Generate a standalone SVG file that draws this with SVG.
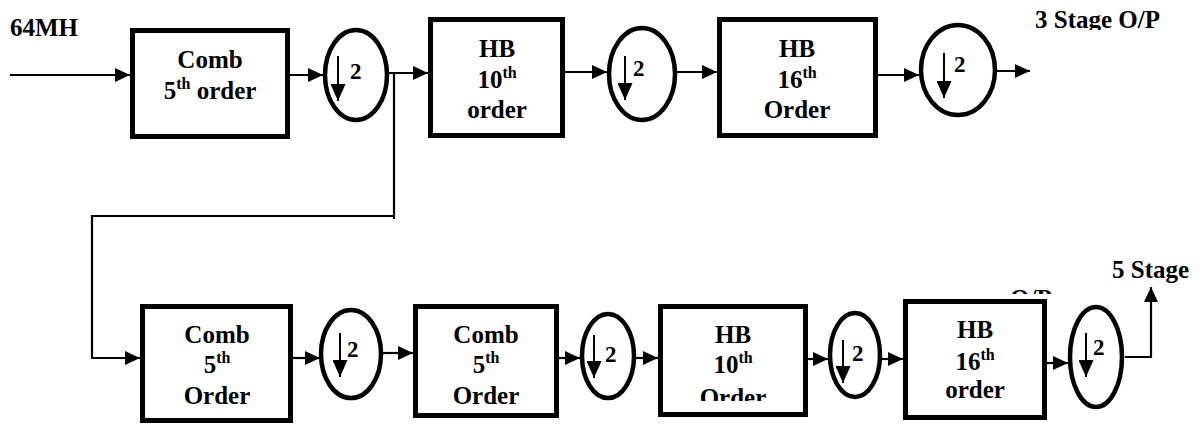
<svg xmlns="http://www.w3.org/2000/svg" width="1202" height="426" viewBox="0 0 1202 426">
  <style>
    .blk { fill: #fff; stroke: #000; stroke-width: 5; }
    .dec { fill: #fff; stroke: #000; stroke-width: 4.5; }
    .wire { fill: none; stroke: #000; stroke-width: 2.2; }
    .ptr { fill: none; stroke: #000; stroke-width: 2.2; marker-end: url(#ah); }
    .down { fill: none; stroke: #000; stroke-width: 2; marker-end: url(#ahDown); }
    text { font-family: "Liberation Serif", "Times New Roman", serif; font-weight: bold; fill: #000; }
    .lbl { font-size: 25px; text-anchor: middle; }
    .sup { font-size: 16px; }
    .two { font-size: 23px; }
    .tag { font-size: 25px; }
  </style>
  <defs>
    <marker id="ah" markerWidth="15" markerHeight="14" refX="15" refY="7" orient="auto" markerUnits="userSpaceOnUse">
      <path d="M0,0 L15,7 L0,14 z" fill="#000"/>
    </marker>
    <marker id="ahDown" markerWidth="17" markerHeight="15" refX="17" refY="7.5" orient="auto" markerUnits="userSpaceOnUse">
      <path d="M0,0 L17,7.5 L0,15 z" fill="#000"/>
    </marker>
    <clipPath id="clipTop"><rect x="1000" y="0" width="202" height="30"/></clipPath>
    <clipPath id="clipOrder"><rect x="660" y="380" width="146" height="21"/></clipPath>
    <clipPath id="clipOP"><rect x="1000" y="288" width="60" height="6"/></clipPath>
  </defs>

  <!-- free labels -->
  <text class="tag" x="10" y="36">64MH</text>
  <text class="tag" x="1035" y="28" clip-path="url(#clipTop)">3 Stage O/P</text>
  <text class="tag" x="1112" y="278">5 Stage</text>
  <text class="tag" x="1010" y="307" clip-path="url(#clipOP)">O/P</text>

  <!-- connectors -->
  <g id="connectors">
    <line class="ptr" x1="10" y1="75" x2="130" y2="75"/>
    <line class="ptr" x1="290" y1="75" x2="323" y2="75"/>
    <line class="ptr" x1="389" y1="73" x2="428" y2="73"/>
    <line class="ptr" x1="565" y1="72" x2="607" y2="72"/>
    <line class="ptr" x1="677" y1="72" x2="717" y2="72"/>
    <line class="ptr" x1="878" y1="75" x2="919" y2="75"/>
    <line class="ptr" x1="997" y1="71" x2="1030" y2="71"/>
    <!-- branch to the second chain -->
    <line class="wire" x1="394" y1="73" x2="394" y2="219"/>
    <polyline class="wire" points="394,216 92,216 92,358"/>
    <line class="ptr" x1="91" y1="358" x2="140" y2="358"/>
    <line class="ptr" x1="293" y1="358" x2="320" y2="358"/>
    <line class="ptr" x1="383" y1="353" x2="413" y2="353"/>
    <line class="ptr" x1="559" y1="358" x2="580" y2="358"/>
    <line class="ptr" x1="636" y1="358" x2="658" y2="358"/>
    <line class="ptr" x1="808" y1="359" x2="828" y2="359"/>
    <line class="ptr" x1="882" y1="359" x2="903" y2="359"/>
    <line class="ptr" x1="1047" y1="363" x2="1068" y2="363"/>
    <polyline class="ptr" points="1125,357 1151,357 1151,287"/>
  </g>

  <!-- upper chain -->
  <g id="comb1">
    <rect class="blk" x="132.5" y="30.5" width="155" height="106"/>
    <text class="lbl" x="210" y="68">Comb</text>
    <text class="lbl" x="210" y="99">5<tspan class="sup" dy="-10">th</tspan><tspan dy="10"> order</tspan></text>
  </g>
  <g id="dec1">
    <ellipse class="dec" cx="356" cy="75" rx="31" ry="45"/>
    <line class="down" x1="338" y1="56" x2="338" y2="101"/>
    <text class="two" x="350" y="79">2</text>
  </g>
  <g id="hb1">
    <rect class="blk" x="430.5" y="19.5" width="132" height="116"/>
    <text class="lbl" x="497" y="57">HB</text>
    <text class="lbl" x="497" y="88">10<tspan class="sup" dy="-10">th</tspan></text>
    <text class="lbl" x="497" y="118">order</text>
  </g>
  <g id="dec2">
    <ellipse class="dec" cx="642" cy="74" rx="33" ry="46"/>
    <line class="down" x1="625" y1="56" x2="625" y2="100"/>
    <text class="two" x="633" y="76">2</text>
  </g>
  <g id="hb2">
    <rect class="blk" x="719.5" y="19.5" width="156" height="116"/>
    <text class="lbl" x="797" y="57">HB</text>
    <text class="lbl" x="797" y="88">16<tspan class="sup" dy="-10">th</tspan></text>
    <text class="lbl" x="797" y="118">Order</text>
  </g>
  <g id="dec3">
    <ellipse class="dec" cx="958" cy="70" rx="37" ry="45"/>
    <line class="down" x1="944" y1="53" x2="944" y2="98"/>
    <text class="two" x="954" y="72">2</text>
  </g>

  <!-- lower chain -->
  <g id="comb2">
    <rect class="blk" x="142.5" y="306.5" width="148" height="114"/>
    <text class="lbl" x="217" y="343">Comb</text>
    <text class="lbl" x="217" y="373">5<tspan class="sup" dy="-10">th</tspan></text>
    <text class="lbl" x="217" y="404">Order</text>
  </g>
  <g id="dec4">
    <ellipse class="dec" cx="351" cy="354" rx="30" ry="44"/>
    <line class="down" x1="340" y1="333" x2="340" y2="377"/>
    <text class="two" x="347" y="357">2</text>
  </g>
  <g id="comb3">
    <rect class="blk" x="415.5" y="306.5" width="141" height="109"/>
    <text class="lbl" x="486" y="343">Comb</text>
    <text class="lbl" x="486" y="373">5<tspan class="sup" dy="-10">th</tspan></text>
    <text class="lbl" x="486" y="404">Order</text>
  </g>
  <g id="dec5">
    <ellipse class="dec" cx="608" cy="356" rx="26" ry="42"/>
    <line class="down" x1="594" y1="335" x2="594" y2="378"/>
    <text class="two" x="605" y="362">2</text>
  </g>
  <g id="hb3">
    <rect class="blk" x="660.5" y="306.5" width="145" height="108"/>
    <text class="lbl" x="733" y="343">HB</text>
    <text class="lbl" x="733" y="373">10<tspan class="sup" dy="-10">th</tspan></text>
    <text class="lbl" x="733" y="406" clip-path="url(#clipOrder)">Order</text>
  </g>
  <g id="dec6">
    <ellipse class="dec" cx="855" cy="355" rx="25" ry="42"/>
    <line class="down" x1="843" y1="340" x2="843" y2="383"/>
    <text class="two" x="852" y="361">2</text>
  </g>
  <g id="hb4">
    <rect class="blk" x="905.5" y="301.5" width="139" height="116"/>
    <text class="lbl" x="975" y="338">HB</text>
    <text class="lbl" x="975" y="370">16<tspan class="sup" dy="-10">th</tspan></text>
    <text class="lbl" x="975" y="398">order</text>
  </g>
  <g id="dec7">
    <ellipse class="dec" cx="1096" cy="357" rx="26" ry="50"/>
    <line class="down" x1="1086" y1="333" x2="1086" y2="377"/>
    <text class="two" x="1093" y="355">2</text>
  </g>
</svg>
